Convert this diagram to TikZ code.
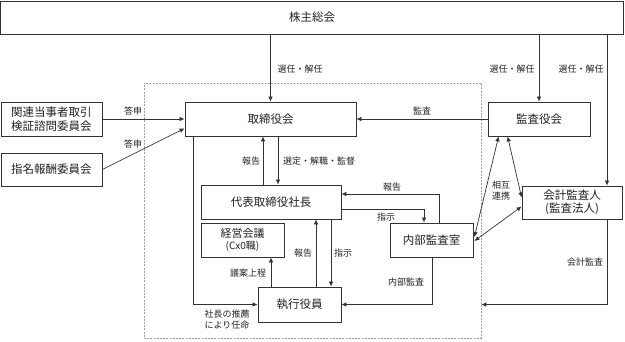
\documentclass[tikz,border=0pt]{standalone}
\usepackage{fontspec}
\setmainfont{Noto Sans CJK JP}
\usetikzlibrary{arrows.meta,calc}
\definecolor{lc}{HTML}{333333}
\definecolor{tc}{HTML}{222222}
\begin{document}
\begin{tikzpicture}[x=1pt,y=-1pt,
 box/.style={draw=lc, line width=0.8pt, fill=white, text=tc, font=\fontsize{11.5}{14}\selectfont, align=center, inner sep=0pt},
 lbl/.style={text=tc, font=\fontsize{9}{11}\selectfont, inner sep=0pt, align=center},
 arr/.style={draw=lc, line width=0.7pt, -{Latex[length=5pt,width=4.5pt]}},
 darr/.style={draw=lc, line width=0.7pt, {Latex[length=5pt,width=4.5pt]}-{Latex[length=5pt,width=4.5pt]}},
 grpbox/.style={draw=gray!75, dash pattern=on 2pt off 1.2pt, line width=0.6pt, inner sep=0pt}]
\useasboundingbox (0,0) rectangle (625,341);

\node[grpbox, minimum width=337pt, minimum height=255pt] (grp) at (312.5,210.5) {};

\node[box, minimum width=623pt, minimum height=33pt] (sh) at (312,17.5) {株主総会};
\node[box, minimum width=101pt, minimum height=34pt] (kr) at (51.5,119) {関連当事者取引\\検証諮問委員会};
\node[box, minimum width=101pt, minimum height=33pt] (sm) at (51.5,169.5) {指名報酬委員会};
\node[box, minimum width=171pt, minimum height=34pt] (tr) at (270.5,119) {取締役会};
\node[box, minimum width=102pt, minimum height=34pt] (ka) at (539,119) {監査役会};
\node[box, minimum width=140pt, minimum height=34pt] (dh) at (271,202) {代表取締役社長};
\node[box, minimum width=83pt, minimum height=34pt, font=\fontsize{11}{12}\selectfont] (kk) at (242.5,240) {経営会議\\{\fontsize{10}{12}\selectfont (Cx0職)}};
\node[box, minimum width=83pt, minimum height=35pt] (sk) at (299.5,304.5) {執行役員};
\node[box, minimum width=83pt, minimum height=34pt] (nb) at (431.5,240) {内部監査室};
\node[box, minimum width=100pt, minimum height=33pt, font=\fontsize{11.5}{13}\selectfont] (kai) at (572,202.5) {会計監査人\\(監査法人)};

\coordinate (xA) at (607,0);
\coordinate (xL) at (193,0);
\coordinate (xR1) at (263,0);
\coordinate (xS1) at (278,0);
\coordinate (xG) at (271,0);
\coordinate (xH1) at (316,0);
\coordinate (xH2) at (331,0);
\coordinate (xN1) at (439,0);
\coordinate (xN2) at (424,0);
\coordinate (xN3) at (432,0);
\coordinate (yR) at (0,194);
\coordinate (yS) at (0,209);

\draw[arr] (sh.south -| tr.north) -- (tr.north);
\draw[arr] (sh.south -| ka.north) -- (ka.north);
\draw[arr] (sh.south -| xA) -- (kai.north -| xA);
\draw[arr] (kr.east) -- (tr.west);
\draw[arr] (sm.east) -- ($(tr.south west)+(0,-8)$);
\draw[arr] (ka.west) -- (tr.east);
\draw[arr] (dh.north -| xR1) -- (tr.south -| xR1);
\draw[arr] (tr.south -| xS1) -- (dh.north -| xS1);
\draw[arr] (tr.south -| xL) |- (sk.west);
\draw[arr] (sk.north -| xG) -- (kk.south -| xG);
\draw[arr] (sk.north -| xH1) -- (dh.south -| xH1);
\draw[arr] (dh.south -| xH2) -- (sk.north -| xH2);
\draw[arr] (nb.north -| xN1) |- (dh.east |- yR);
\draw[arr] (dh.east |- yS) -| (nb.north -| xN2);
\draw[arr] (nb.south -| xN3) |- (sk.east);
\draw[arr] (kai.south -| xA) |- (grp.east |- sk.east);
\draw[darr] ($(ka.south west)+(11,0)$) -- ($(nb.east)+(1,-3)$);
\draw[darr] ($(ka.south west)+(20,0)$) -- ($(kai.west)+(0,-5)$);
\draw[darr] ($(nb.east)+(1,1)$) -- ($(kai.west)+(0,4)$);

\node[lbl] (l1) at (300,69) {選任・解任};
\node[lbl] (l2) at (512,69) {選任・解任};
\node[lbl] (l3) at (581,69) {選任・解任};
\node[lbl] (l4) at (133,111) {答申};
\node[lbl] (l5) at (133,144) {答申};
\node[lbl] (l6) at (422,111) {監査};
\node[lbl] (l7) at (251,161) {報告};
\node[lbl, anchor=west] (l8) at (283,161) {選定・解職・監督};
\node[lbl] (l9) at (392,187) {報告};
\node[lbl] (l10) at (386,217) {指示};
\node[lbl] (l11) at (303,253) {報告};
\node[lbl] (l12) at (343,253) {指示};
\node[lbl] (l13) at (248,273) {議案上程};
\node[lbl] (l14) at (227,320) {社長の推薦\\により任命};
\node[lbl] (l15) at (406,282) {内部監査};
\node[lbl] (l16) at (501,191) {相互\\連携};
\node[lbl] (l17) at (585,262) {会計監査};
\end{tikzpicture}
\end{document}
